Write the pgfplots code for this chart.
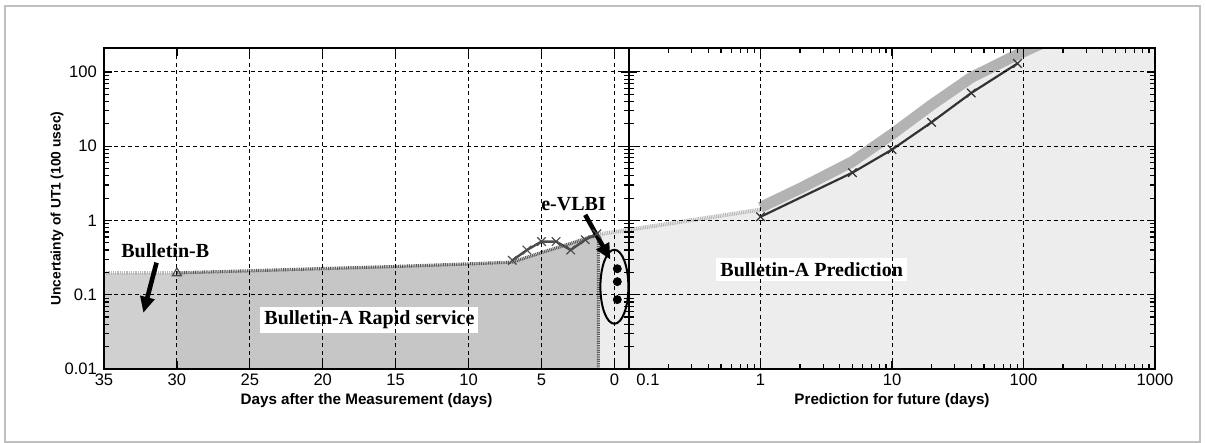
\documentclass[border=0pt]{standalone}
\usepackage{pgfplots}
\pgfplotsset{compat=1.18}
\usepackage{fontspec}
\setmainfont{Liberation Sans}
\newfontfamily\timesfont{Liberation Serif}
\usetikzlibrary{arrows.meta}

\definecolor{fillB}{HTML}{D0D0D0}
\definecolor{fillRapid}{HTML}{C6C6C6}
\definecolor{fillLight}{HTML}{EDEDED}
\definecolor{band}{HTML}{B3B3B3}
\definecolor{dotdark}{HTML}{5A5A5A}
\definecolor{dotlight}{HTML}{B8B8B8}

\pgfplotsset{
  /pgf/number format/assume math mode=true,
  every axis/.append style={
    scale only axis, height=160.5pt, anchor=south west,
    ymin=0.01, ymax=210,
    log ticks with fixed point,
    axis on top,
    grid=major,
    major grid style={black, line width=0.45pt, dash pattern=on 2pt off 1.6pt},
    axis line style={line width=1.3pt},
    tick style={black, line width=0.6pt},
    major tick length=4pt, minor tick length=2.4pt,
    tick align=inside,
    ticklabel style={font=\fontsize{8.3}{9}\selectfont},
    xticklabel style={yshift=1pt},
    label style={font=\bfseries\fontsize{7.6}{9}\selectfont},
    xlabel style={at={(axis description cs:0.5,-0.097)}, anchor=center},
  },
}
\tikzset{
  note/.style={font=\timesfont\bfseries\fontsize{10}{12}\selectfont},
  bigarrow/.style={-{Triangle[length=8pt,width=7pt]}, line width=2.3pt, black},
}

\begin{document}
\begin{tikzpicture}
\useasboundingbox (0,0) rectangle (603pt,221.5pt);
\draw[black!25, line width=0.8pt] (2.5pt,0.5pt) rectangle (600pt,218.5pt);

% left panel: days after the measurement
\begin{semilogyaxis}[at={(52pt,37pt)}, width=262.5pt,
  xmin=-1, xmax=35, x dir=reverse, xtick={0,5,...,35},
  xlabel={Days after the Measurement (days)},
  ylabel={Uncertainty of UT1 (100 usec)},
  ylabel style={at={(axis description cs:-0.0895,0.5)}, anchor=center,
    font=\bfseries\fontsize{6.9}{8}\selectfont},
  clip=false]
  \addplot[fill=fillB, draw=none]
    coordinates {(35,0.01)(35,0.195)(30,0.195)(30,0.01)} -- cycle;
  \addplot[fill=fillRapid, draw=none]
    coordinates {(30,0.01)(30,0.197)(25,0.21)(20,0.225)(15,0.24)(10,0.26)(7,0.275)(5,0.37)(3,0.49)(1.1,0.65)(1.1,0.01)} -- cycle;
  \addplot[fill=fillLight, draw=none]
    coordinates {(1.1,0.01)(1.1,0.65)(-1,0.75)(-1,0.01)} -- cycle;

  \addplot[dotlight, line width=1.8pt, dash pattern=on 0.5pt off 0.4pt]
    coordinates {(35,0.195)(30,0.195)};
  \addplot[dotdark, line width=1.6pt, dash pattern=on 0.5pt off 0.4pt]
    coordinates {(30,0.197)(25,0.21)(20,0.225)(15,0.24)(10,0.26)(7,0.275)(5,0.37)(3,0.49)(1.1,0.65)(1.1,0.01)};
  \addplot[dotlight, line width=2pt, dash pattern=on 0.5pt off 0.4pt]
    coordinates {(1.1,0.65)(-1,0.75)};
  \addplot[only marks, mark=triangle, mark size=2.6pt, mark options={black!70, line width=0.6pt}]
    coordinates {(30,0.195)};
  \addplot[black!70, line width=1.2pt, mark=x, mark size=3pt, mark options={line width=0.6pt}]
    coordinates {(7,0.29)(6,0.4)(5,0.52)(4,0.52)(3,0.4)(2,0.55)(1.2,0.66)};
  \addplot[only marks, mark=*, mark size=2pt, black]
    coordinates {(-0.2,0.224)(-0.2,0.15)(-0.2,0.086)};

  \draw[black, line width=1pt] (axis cs:0,0.128) ellipse [x radius=7pt, y radius=18.5pt];
  \draw[bigarrow] (axis cs:31.4,0.27) -- (axis cs:32.3,0.057);
  \draw[bigarrow] (axis cs:2.0,1.19) -- (axis cs:0.27,0.296);
  \node[note] at (axis cs:30.8,0.39) {Bulletin-B};
  \node[note, fill=white, inner sep=2pt] at (axis cs:16.8,0.046) {Bulletin-A Rapid service};
  \node[note] at (axis cs:2.8,1.68) {e-VLBI};
\end{semilogyaxis}

% right panel: prediction for the future
\begin{loglogaxis}[at={(314.5pt,37pt)}, width=263pt,
  xmin=0.1, xmax=1000,
  xtick={0.1,1,10,100,1000},
  xticklabels={\hspace*{19pt}\raisebox{-1.5pt}{0.1},1,10,100,1000},
  ytick={0.01,0.1,1,10,100},
  yticklabels={},
  xlabel={Prediction for future (days)}]
  \addplot[fill=fillLight, draw=none]
    coordinates {(0.1,0.01)(0.1,0.75)(1,1.4)(2,2.5)(5,5.8)(10,13)(20,33)(40,78)(90,165)(125,210)(1000,210)(1000,0.01)} -- cycle;
  \addplot[dotlight, line width=2pt, dash pattern=on 0.5pt off 0.4pt]
    coordinates {(0.1,0.75)(1,1.4)};
  \addplot[band, line width=5.5pt]
    coordinates {(1,1.5)(2,2.7)(5,6.2)(10,14.5)(20,36)(40,84)(90,172)(140,245)};
  \addplot[black!80, line width=1.1pt, mark=x, mark size=3pt, mark options={line width=0.6pt}]
    coordinates {(1,1.12)(5,4.4)(10,9)(20,21)(40,52)(90,130)};
  \node[note, fill=white, inner sep=2pt] at (axis cs:2.45,0.219) {Bulletin-A Prediction};
\end{loglogaxis}
\end{tikzpicture}
\end{document}
